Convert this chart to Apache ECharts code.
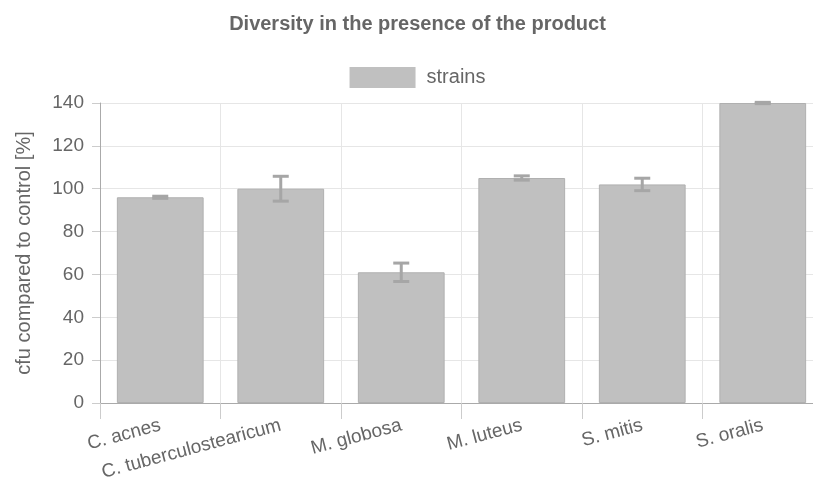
<!DOCTYPE html>
<html>
<head>
<meta charset="utf-8">
<script src="https://cdn.jsdelivr.net/npm/echarts@6/dist/echarts.min.js"></script>
<style>
  html, body { margin: 0; padding: 0; background: #fff; overflow: hidden; }
  #main { width: 835px; height: 485px; }
</style>
</head>
<body>
<div id="main"></div>
<script>
// data
var strains = ['C. acnes', 'C. tuberculostearicum', 'M. globosa', 'M. luteus', 'S. mitis', 'S. oralis'];
var cfuValues = [96, 100, 61, 105, 102, 140];
var cfuErrors = [0.5, 5.8, 4.3, 1, 2.9, 0.3];

// the original canvas is a bit wider than the shot, the right end is cut off
var myChart = echarts.init(document.getElementById('main'));
var font = 'Liberation Sans, Arial, sans-serif';

var errorData = strains.map(function (s, i) {
    return [i, cfuValues[i] - cfuErrors[i], cfuValues[i] + cfuErrors[i]];
});

var option = {
    animation: false,
    title: {
        text: 'Diversity in the presence of the product',
        left: 'center',
        top: 9,
        textStyle: {
            fontFamily: font,
            fontSize: 20,
            fontWeight: 'bold',
            color: '#666'
        }
    },
    legend: {
        top: 62,
        left: 'center',
        icon: 'rect',
        itemWidth: 66,
        itemHeight: 21,
        itemGap: 12,
        data: ['strains'],
        itemStyle: { borderWidth: 0 },
        textStyle: { fontFamily: font, fontSize: 20, color: '#666', padding: [0, 0, 0, 6] }
    },
    grid: {
        left: 100,
        right: 12,
        top: 103,
        bottom: 82
    },
    xAxis: {
        type: 'category',
        data: strains,
        axisLine: { lineStyle: { color: '#aaa', width: 1 } },
        axisTick: { show: true, length: 16, lineStyle: { color: '#ccc' } },
        splitLine: { show: true, lineStyle: { color: '#e6e6e6' } },
        axisLabel: {
            rotate: 15,
            margin: 22,
            fontFamily: font,
            fontSize: 19,
            color: '#666',
            interval: 0
        }
    },
    yAxis: {
        type: 'value',
        min: 0,
        max: 140,
        interval: 20,
        name: 'cfu compared to control [%]',
        nameLocation: 'middle',
        nameGap: 66,
        nameTextStyle: { fontFamily: font, fontSize: 20, color: '#666' },
        axisLine: { show: true, lineStyle: { color: '#aaa' } },
        axisTick: { show: true, length: 8, lineStyle: { color: '#ccc' } },
        splitLine: { lineStyle: { color: '#e6e6e6' } },
        axisLabel: { margin: 16, fontFamily: font, fontSize: 19, color: '#666' }
    },
    series: [{
        name: 'strains',
        type: 'bar',
        data: cfuValues,
        barWidth: '72%',
        itemStyle: {
            color: '#c0c0c0',
            borderColor: '#b0b0b0',
            borderWidth: 1
        }
    }, {
        name: 'error',
        type: 'custom',
        data: errorData,
        z: 10,
        renderItem: function (params, api) {
            var x = api.value(0);
            var lo = api.coord([x, api.value(1)]);
            var hi = api.coord([x, api.value(2)]);
            var half = 8;
            var style = { stroke: '#a6a6a6', lineWidth: 3, fill: null };
            return {
                type: 'group',
                children: [{
                    type: 'line',
                    shape: { x1: hi[0], y1: hi[1], x2: lo[0], y2: lo[1] },
                    style: style
                }, {
                    type: 'line',
                    shape: { x1: hi[0] - half, y1: hi[1], x2: hi[0] + half, y2: hi[1] },
                    style: style
                }, {
                    type: 'line',
                    shape: { x1: lo[0] - half, y1: lo[1], x2: lo[0] + half, y2: lo[1] },
                    style: style
                }]
            };
        }
    }]
};

myChart.setOption(option);
</script>
</body>
</html>
